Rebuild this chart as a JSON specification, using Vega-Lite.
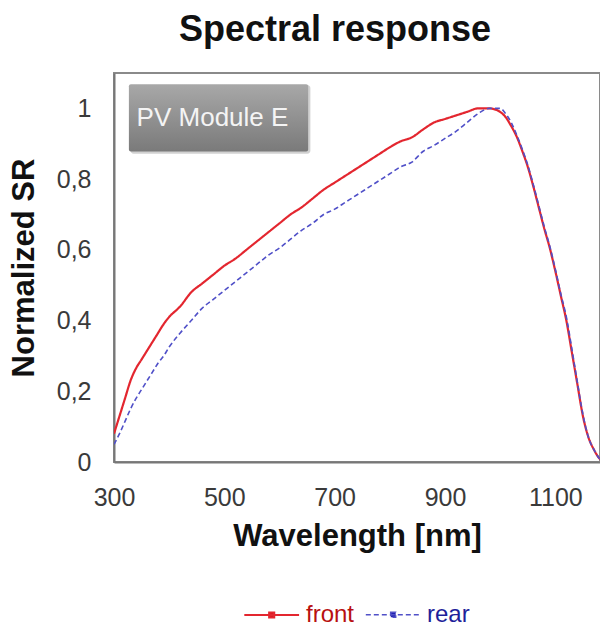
{
  "$schema": "https://vega.github.io/schema/vega-lite/v6.json",
  "width": 486,
  "height": 389,
  "autosize": "none",
  "padding": {"left": 114, "top": 73, "right": 0, "bottom": 167},
  "background": "white",
  "title": {"text": "Spectral response", "fontSize": 36, "font": "Liberation Sans", "fontWeight": "bold", "color": "#111", "anchor": "middle", "dx": -22, "offset": 24},
  "config": {
    "view": {"stroke": "#8a8a8a", "strokeWidth": 2},
    "axis": {"labelFont": "Liberation Sans", "titleFont": "Liberation Sans", "labelFontSize": 25, "labelColor": "#3a3a3a", "titleFontSize": 31, "titleFontWeight": "bold", "titleColor": "#111", "gridColor": "#d6d6d6", "gridWidth": 1.5, "domainColor": "#777", "domainWidth": 2, "tickSize": 0}
  },
  "datasets": {
    "curves": [
      {"wl": 300, "sr": 0.08, "side": "front"}, {"wl": 310, "sr": 0.13, "side": "front"}, {"wl": 320, "sr": 0.18, "side": "front"}, {"wl": 330, "sr": 0.23, "side": "front"}, {"wl": 340, "sr": 0.265, "side": "front"}, {"wl": 350, "sr": 0.29, "side": "front"}, {"wl": 360, "sr": 0.315, "side": "front"}, {"wl": 370, "sr": 0.34, "side": "front"}, {"wl": 380, "sr": 0.365, "side": "front"}, {"wl": 390, "sr": 0.39, "side": "front"}, {"wl": 400, "sr": 0.41, "side": "front"}, {"wl": 420, "sr": 0.44, "side": "front"}, {"wl": 440, "sr": 0.48, "side": "front"}, {"wl": 460, "sr": 0.505, "side": "front"}, {"wl": 480, "sr": 0.53, "side": "front"}, {"wl": 500, "sr": 0.555, "side": "front"}, {"wl": 520, "sr": 0.575, "side": "front"}, {"wl": 540, "sr": 0.6, "side": "front"}, {"wl": 560, "sr": 0.625, "side": "front"}, {"wl": 580, "sr": 0.65, "side": "front"}, {"wl": 600, "sr": 0.675, "side": "front"}, {"wl": 620, "sr": 0.7, "side": "front"}, {"wl": 640, "sr": 0.72, "side": "front"}, {"wl": 660, "sr": 0.745, "side": "front"}, {"wl": 680, "sr": 0.77, "side": "front"}, {"wl": 700, "sr": 0.79, "side": "front"}, {"wl": 720, "sr": 0.81, "side": "front"}, {"wl": 740, "sr": 0.83, "side": "front"}, {"wl": 760, "sr": 0.85, "side": "front"}, {"wl": 780, "sr": 0.87, "side": "front"}, {"wl": 800, "sr": 0.89, "side": "front"}, {"wl": 820, "sr": 0.907, "side": "front"}, {"wl": 840, "sr": 0.918, "side": "front"}, {"wl": 860, "sr": 0.94, "side": "front"}, {"wl": 880, "sr": 0.96, "side": "front"}, {"wl": 900, "sr": 0.97, "side": "front"}, {"wl": 920, "sr": 0.98, "side": "front"}, {"wl": 940, "sr": 0.99, "side": "front"}, {"wl": 960, "sr": 1.0, "side": "front"}, {"wl": 980, "sr": 1.0, "side": "front"}, {"wl": 1000, "sr": 0.99, "side": "front"}, {"wl": 1010, "sr": 0.975, "side": "front"}, {"wl": 1020, "sr": 0.95, "side": "front"}, {"wl": 1030, "sr": 0.92, "side": "front"}, {"wl": 1040, "sr": 0.88, "side": "front"}, {"wl": 1050, "sr": 0.835, "side": "front"}, {"wl": 1060, "sr": 0.78, "side": "front"}, {"wl": 1070, "sr": 0.72, "side": "front"}, {"wl": 1080, "sr": 0.66, "side": "front"}, {"wl": 1090, "sr": 0.605, "side": "front"}, {"wl": 1100, "sr": 0.54, "side": "front"}, {"wl": 1110, "sr": 0.47, "side": "front"}, {"wl": 1120, "sr": 0.4, "side": "front"}, {"wl": 1130, "sr": 0.31, "side": "front"}, {"wl": 1140, "sr": 0.22, "side": "front"}, {"wl": 1150, "sr": 0.13, "side": "front"}, {"wl": 1160, "sr": 0.07, "side": "front"}, {"wl": 1170, "sr": 0.035, "side": "front"}, {"wl": 1180, "sr": 0.01, "side": "front"}, {"wl": 1190, "sr": 0.0, "side": "front"},
      {"wl": 300, "sr": 0.05, "side": "rear"}, {"wl": 310, "sr": 0.08, "side": "rear"}, {"wl": 320, "sr": 0.115, "side": "rear"}, {"wl": 330, "sr": 0.15, "side": "rear"}, {"wl": 340, "sr": 0.18, "side": "rear"}, {"wl": 350, "sr": 0.205, "side": "rear"}, {"wl": 360, "sr": 0.23, "side": "rear"}, {"wl": 370, "sr": 0.255, "side": "rear"}, {"wl": 380, "sr": 0.28, "side": "rear"}, {"wl": 390, "sr": 0.3, "side": "rear"}, {"wl": 400, "sr": 0.325, "side": "rear"}, {"wl": 420, "sr": 0.365, "side": "rear"}, {"wl": 440, "sr": 0.4, "side": "rear"}, {"wl": 460, "sr": 0.435, "side": "rear"}, {"wl": 480, "sr": 0.46, "side": "rear"}, {"wl": 500, "sr": 0.485, "side": "rear"}, {"wl": 520, "sr": 0.51, "side": "rear"}, {"wl": 540, "sr": 0.535, "side": "rear"}, {"wl": 560, "sr": 0.56, "side": "rear"}, {"wl": 580, "sr": 0.585, "side": "rear"}, {"wl": 600, "sr": 0.605, "side": "rear"}, {"wl": 620, "sr": 0.63, "side": "rear"}, {"wl": 640, "sr": 0.655, "side": "rear"}, {"wl": 660, "sr": 0.675, "side": "rear"}, {"wl": 680, "sr": 0.7, "side": "rear"}, {"wl": 700, "sr": 0.715, "side": "rear"}, {"wl": 720, "sr": 0.735, "side": "rear"}, {"wl": 740, "sr": 0.755, "side": "rear"}, {"wl": 760, "sr": 0.775, "side": "rear"}, {"wl": 780, "sr": 0.795, "side": "rear"}, {"wl": 800, "sr": 0.815, "side": "rear"}, {"wl": 820, "sr": 0.835, "side": "rear"}, {"wl": 840, "sr": 0.848, "side": "rear"}, {"wl": 860, "sr": 0.878, "side": "rear"}, {"wl": 880, "sr": 0.895, "side": "rear"}, {"wl": 900, "sr": 0.915, "side": "rear"}, {"wl": 920, "sr": 0.935, "side": "rear"}, {"wl": 940, "sr": 0.96, "side": "rear"}, {"wl": 960, "sr": 0.985, "side": "rear"}, {"wl": 980, "sr": 1.0, "side": "rear"}, {"wl": 1000, "sr": 1.0, "side": "rear"}, {"wl": 1010, "sr": 0.985, "side": "rear"}, {"wl": 1020, "sr": 0.96, "side": "rear"}, {"wl": 1030, "sr": 0.925, "side": "rear"}, {"wl": 1040, "sr": 0.885, "side": "rear"}, {"wl": 1050, "sr": 0.84, "side": "rear"}, {"wl": 1060, "sr": 0.785, "side": "rear"}, {"wl": 1070, "sr": 0.725, "side": "rear"}, {"wl": 1080, "sr": 0.665, "side": "rear"}, {"wl": 1090, "sr": 0.61, "side": "rear"}, {"wl": 1100, "sr": 0.545, "side": "rear"}, {"wl": 1110, "sr": 0.475, "side": "rear"}, {"wl": 1120, "sr": 0.41, "side": "rear"}, {"wl": 1130, "sr": 0.32, "side": "rear"}, {"wl": 1140, "sr": 0.225, "side": "rear"}, {"wl": 1150, "sr": 0.135, "side": "rear"}, {"wl": 1160, "sr": 0.07, "side": "rear"}, {"wl": 1170, "sr": 0.035, "side": "rear"}, {"wl": 1180, "sr": 0.01, "side": "rear"}, {"wl": 1190, "sr": 0.0, "side": "rear"}
    ],
    "label": [{"name": "PV Module E"}]
  },
  "layer": [
    {
      "data": {"name": "label"},
      "mark": {"type": "rect", "color": "#000", "opacity": 0.18, "cornerRadius": 3},
      "encoding": {"x": {"datum": 330, "type": "quantitative"}, "x2": {"datum": 656}, "y": {"datum": 0.872, "type": "quantitative"}, "y2": {"datum": 1.066}}
    },
    {
      "data": {"name": "label"},
      "mark": {"type": "rect", "color": {"gradient": "linear", "x1": 0, "y1": 0, "x2": 0, "y2": 1, "stops": [{"offset": 0, "color": "#a8a8a8"}, {"offset": 1, "color": "#7a7a7a"}]}, "cornerRadius": 2},
      "encoding": {"x": {"datum": 327, "type": "quantitative"}, "x2": {"datum": 652}, "y": {"datum": 0.878, "type": "quantitative"}, "y2": {"datum": 1.068}}
    },
    {
      "data": {"name": "label"},
      "mark": {"type": "text", "color": "#f4f4f4", "font": "Liberation Sans", "fontSize": 26, "align": "left", "baseline": "middle"},
      "encoding": {"x": {"datum": 341, "type": "quantitative"}, "y": {"datum": 0.972, "type": "quantitative"}, "text": {"field": "name"}}
    },
    {
      "data": {"name": "curves"},
      "mark": {"type": "line", "clip": true, "interpolate": "monotone"},
      "encoding": {
        "x": {"field": "wl", "type": "quantitative", "scale": {"domain": [300, 1181], "nice": false, "zero": false}, "axis": {"title": "Wavelength [nm]", "values": [300, 500, 700, 900, 1100], "format": "d", "labelPadding": 23, "titlePadding": 11, "labelFlush": false}},
        "y": {"field": "sr", "type": "quantitative", "scale": {"domain": [0, 1.1], "nice": false}, "axis": {"title": "Normalized SR", "values": [0, 0.2, 0.4, 0.6, 0.8, 1], "labelExpr": "replace(format(datum.value, '.1~f'), '.', ',')", "labelPadding": 23, "titlePadding": 16}},
        "color": {"field": "side", "type": "nominal", "scale": {"domain": ["front", "rear"], "range": ["#e3262f", "#5050c8"]}, "legend": {
          "title": null, "orient": "none", "legendX": 129, "legendY": 527, "direction": "horizontal",
          "labelFont": "Liberation Sans", "labelFontSize": 24, "columnPadding": 7, "labelOffset": 33,
          "symbolType": "M-1,0H3M0.82,-0.18H1.18V0.18H0.82Z", "symbolSize": 750, "symbolStrokeWidth": 1.2,
          "encode": {"labels": {"update": {"fill": {"signal": "datum.value === 'front' ? '#b81010' : '#1f1f9a'"}}}, "symbols": {"update": {"fill": {"signal": "datum.value === 'front' ? '#c00000' : '#2020b0'"}, "stroke": {"signal": "datum.value === 'front' ? '#e06060' : '#3030d0'"}}}}
        }},
        "strokeDash": {"field": "side", "type": "nominal", "scale": {"domain": ["front", "rear"], "range": [[1, 0], [5, 3]]}, "legend": null},
        "strokeWidth": {"field": "side", "type": "nominal", "scale": {"domain": ["front", "rear"], "range": [2.2, 1.6]}, "legend": null}
      }
    }
  ]
}
